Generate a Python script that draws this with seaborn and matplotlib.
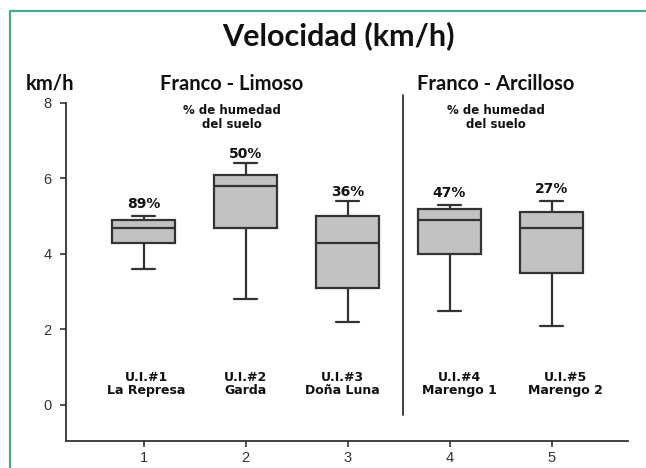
import matplotlib
matplotlib.use("Agg")
import matplotlib.pyplot as plt
from matplotlib.lines import Line2D
import numpy as np
import pandas as pd
import seaborn as sns

# ---- data ----
units = [1, 2, 3, 4, 5]
tick_labels = ["1", "2", "3", "4", "5"]
# five-number summaries per unit: [min, q1, median, q3, max]
box_u1 = [3.6, 4.3, 4.7, 4.9, 5.0]
box_u2 = [2.8, 4.7, 5.8, 6.1, 6.4]
box_u3 = [2.2, 3.1, 4.3, 5.0, 5.4]
box_u4 = [2.5, 4.0, 4.9, 5.2, 5.3]
box_u5 = [2.1, 3.5, 4.7, 5.1, 5.4]
humedad = ["89%", "50%", "36%", "47%", "27%"]
unit_codes = ["U.I.#1", "U.I.#2", "U.I.#3", "U.I.#4", "U.I.#5"]
unit_names = ["La Represa", "Garda", "Doña Luna", "Marengo 1", "Marengo 2"]
group_names = ["Franco - Limoso", "Franco - Arcilloso"]
y_ticks = [0, 2, 4, 6, 8]

boxes = [box_u1, box_u2, box_u3, box_u4, box_u5]
df = pd.DataFrame({
    "unit": np.repeat(units, [len(b) for b in boxes]),
    "vel": np.concatenate(boxes),
})

sns.set_style("ticks")
plt.rcParams["font.family"] = ["DejaVu Sans"]

W, H = 646, 468
fig = plt.figure(figsize=(W / 100, H / 100), dpi=100)
ax = fig.add_axes([66 / W, 1 - 440.7 / H, (628 - 66) / W, (440.7 - 103) / H])

sns.boxplot(data=df, x="unit", y="vel", native_scale=True, width=0.62,
            color="#c2c2c2", linecolor="#333333", linewidth=1.6,
            whis=(0, 100), fliersize=0, capwidths=0.22, saturation=1,
            ax=ax)

ax.set_xlim(0.24, 5.75)
ax.set_ylim(-0.95, 8)
ax.set_xticks(units)
ax.set_xticklabels(tick_labels)
ax.set_yticks(y_ticks)
ax.set_xlabel("")
ax.set_ylabel("")
for s in ["top", "right"]:
    ax.spines[s].set_visible(False)
for s in ["left", "bottom"]:
    ax.spines[s].set_color("#333333")
    ax.spines[s].set_linewidth(1.3)
ax.tick_params(axis="both", length=4.5, width=1.2, color="#333333",
               labelcolor="#333333", labelsize=10.5)
ax.tick_params(axis="x", pad=3)
ax.tick_params(axis="y", pad=6)
for lab in ax.get_xticklabels() + ax.get_yticklabels():
    lab.set_family("Liberation Sans")

# divider between soil groups
ax.plot([3.54, 3.54], [8.21, -0.26], color="#333333", lw=1.3, clip_on=False)

# humidity percentages above boxes
pct_y = [5.32, 6.65, 5.64, 5.62, 5.72]
for x, t, y in zip(units, humedad, pct_y):
    ax.text(x, y, t, ha="center", va="center", fontsize=10,
            fontweight="bold", color="#111111")

# unit labels near the bottom
lab_x = [1.03, 2.0, 2.95, 4.1, 5.14]
for x, c, n in zip(lab_x, unit_codes, unit_names):
    ax.text(x, 0.54, c + "\n" + n, ha="center", va="center", fontsize=9,
            fontweight="bold", color="#111111", linespacing=1.0)

# headers
fig.text(338 / W, 1 - 36 / H, "Velocidad (km/h)", ha="center", va="center",
         fontsize=22, fontweight="bold", family="Lato", color="#111111")
fig.text(50 / W, 1 - 84 / H, "km/h", ha="center", va="center",
         fontsize=14.5, fontweight="bold", family="Lato", color="#111111")
for cx, g in zip([232, 496], group_names):
    fig.text(cx / W, 1 - 84 / H, g, ha="center", va="center",
             fontsize=14.5, fontweight="bold", family="Lato", color="#111111")
    fig.text(cx / W, 1 - 117.5 / H, "% de humedad\ndel suelo", ha="center",
             va="center", fontsize=8.5, fontweight="bold", color="#111111",
             linespacing=1.1)

# teal frame
teal = "#46a891"
fig.add_artist(Line2D([10 / W, 10 / W], [1 - 11 / H, 0], color=teal, lw=1.6,
                      transform=fig.transFigure))
fig.add_artist(Line2D([10 / W, 1], [1 - 11 / H, 1 - 11 / H], color=teal, lw=1.6,
                      transform=fig.transFigure))

fig.savefig("out.png", dpi=100)
